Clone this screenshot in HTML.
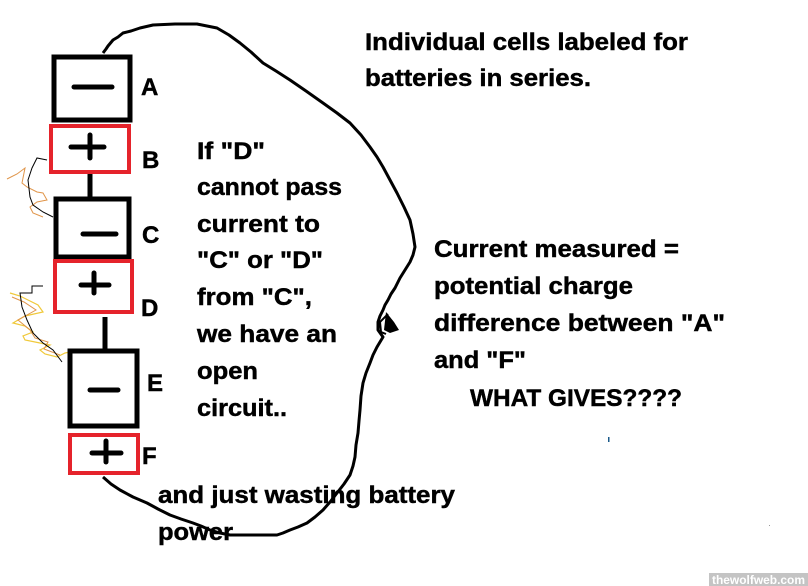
<!DOCTYPE html>
<html><head><meta charset="utf-8"><style>
html,body{margin:0;padding:0;background:#fff;}
svg{display:block;}
text{font-family:"Liberation Sans",Arial,sans-serif;font-weight:bold;fill:#000;stroke:#000;stroke-width:0.45;}
</style></head><body>
<svg width="808" height="586" viewBox="0 0 808 586" xmlns="http://www.w3.org/2000/svg">
<rect width="808" height="586" fill="#fff"/>
<!-- loop wire -->
<path d="M103,53 L106,49 L108,46 L113,40 L118,37 L123,33 L131,31 L140,28 L153,25 L175,24 L197,24 L207,26 L217,28 L229,35 L240,43 L251,52 L263,63 L276,71 L290,80 L306,91 L323,103 L337,113 L350,123 L361,135 L370,147 L377,157 L383,167 L390,180 L397,193 L404,207 L410,220 L413,234 L415,247 L413,255 L410,262 L405,270 L400,278 L397,284 L395,288 L391,294 L388,300 L385,305 L383,310 L380,316 L378,322 L378,330 L383,337 L380,342 L377,347 L373,355 L370,363 L366,373 L363,383 L361,396 L360,410 L359,421 L358,433 L356,445 L355,457 L353,466 L350,475 L344,484 L337,493 L330,502 L323,510 L315,517 L307,523 L298,527 L290,530 L283,533 L277,535 L253,535 L230,535 L220,533 L210,530 L201,526 L193,523 L181,519 L170,515 L158,509 L147,503 L133,497 L120,490 L111,484 L103,477" fill="none" stroke="#000" stroke-width="3" stroke-linejoin="round"/>
<path d="M386,312 L394,322 L399,330 L390,333 L384,330 Z" fill="#000"/>
<path d="M388,314 L380,322 L381,332 L386,334" fill="none" stroke="#000" stroke-width="2"/>
<!-- scribbles -->
<polyline points="7,179 17,174 25,168 22,183 27,187 37,192 43,193 47,200 37,202 30,207 33,213 43,217" fill="none" stroke="#e0954a" stroke-width="1"/>
<polyline points="47,160 37,158 32,168 28,180 30,197 33,205 43,212 53,217" fill="none" stroke="#000" stroke-width="1"/>
<polyline points="10,293 20,296 28,300 38,305 43,312 25,316 13,323 25,326 33,332 23,336 25,340 40,343 50,345 40,350 45,354 57,357 65,353 70,352" fill="none" stroke="#f0c93a" stroke-width="1.2"/>
<polyline points="12,297 24,302 36,310 18,320 30,330 35,338 48,342 44,349 60,355" fill="none" stroke="#e0954a" stroke-width="1"/>
<polyline points="43,286 32,286 32,293 20,293 22,307 27,320 33,333 43,343 53,350 62,362" fill="none" stroke="#000" stroke-width="1"/>
<!-- Box A -->
<rect x="54" y="57" width="76" height="63" fill="none" stroke="#000" stroke-width="5"/>
<line x1="74" y1="87" x2="112" y2="87" stroke="#000" stroke-width="5" stroke-linecap="round"/>
<!-- Box B -->
<rect x="51" y="126" width="78" height="46" fill="none" stroke="#e5232b" stroke-width="4"/>
<line x1="71" y1="147" x2="104" y2="147" stroke="#000" stroke-width="5" stroke-linecap="round"/>
<line x1="90" y1="135" x2="90" y2="158" stroke="#000" stroke-width="5" stroke-linecap="round"/>
<line x1="90" y1="174" x2="90" y2="197" stroke="#000" stroke-width="5"/>
<!-- Box C -->
<rect x="56" y="199" width="73" height="58" fill="none" stroke="#000" stroke-width="5"/>
<line x1="83" y1="234" x2="116" y2="234" stroke="#000" stroke-width="5" stroke-linecap="round"/>
<!-- Box D -->
<rect x="55" y="261" width="77" height="51" fill="none" stroke="#e5232b" stroke-width="4"/>
<line x1="81" y1="285" x2="109" y2="285" stroke="#000" stroke-width="5" stroke-linecap="round"/>
<line x1="94" y1="273" x2="94" y2="293" stroke="#000" stroke-width="5" stroke-linecap="round"/>
<line x1="105" y1="317" x2="105" y2="350" stroke="#000" stroke-width="5"/>
<!-- Box E -->
<rect x="70" y="351" width="67" height="75" fill="none" stroke="#000" stroke-width="5"/>
<line x1="90" y1="390" x2="118" y2="390" stroke="#000" stroke-width="5" stroke-linecap="round"/>
<!-- Box F -->
<rect x="70" y="435" width="68" height="38" fill="none" stroke="#e5232b" stroke-width="4"/>
<line x1="92" y1="453" x2="121" y2="453" stroke="#000" stroke-width="5" stroke-linecap="round"/>
<line x1="106" y1="441" x2="106" y2="462" stroke="#000" stroke-width="5" stroke-linecap="round"/>
<!-- letters -->
<text x="141" y="95" font-size="24">A</text>
<text x="142" y="168" font-size="24">B</text>
<text x="142" y="243" font-size="24">C</text>
<text x="141" y="316" font-size="24">D</text>
<text x="147" y="391" font-size="24">E</text>
<text x="142" y="464" font-size="24">F</text>
<!-- top right -->
<text x="365" y="50" font-size="24" textLength="323" lengthAdjust="spacingAndGlyphs">Individual cells labeled for</text>
<text x="365" y="86" font-size="24" textLength="226" lengthAdjust="spacingAndGlyphs">batteries in series.</text>
<!-- middle -->
<text x="197" y="159" font-size="24" textLength="68" lengthAdjust="spacingAndGlyphs">If "D"</text>
<text x="197" y="195" font-size="24" textLength="145" lengthAdjust="spacingAndGlyphs">cannot pass</text>
<text x="197" y="232" font-size="24" textLength="123" lengthAdjust="spacingAndGlyphs">current to</text>
<text x="197" y="268" font-size="24" textLength="126" lengthAdjust="spacingAndGlyphs">"C" or "D"</text>
<text x="197" y="305" font-size="24" textLength="115" lengthAdjust="spacingAndGlyphs">from "C",</text>
<text x="197" y="342" font-size="24" textLength="140" lengthAdjust="spacingAndGlyphs">we have an</text>
<text x="197" y="379" font-size="24" textLength="61" lengthAdjust="spacingAndGlyphs">open</text>
<text x="197" y="416" font-size="24" textLength="90" lengthAdjust="spacingAndGlyphs">circuit..</text>
<!-- bottom -->
<text x="158" y="503" font-size="24" textLength="297" lengthAdjust="spacingAndGlyphs">and just wasting battery</text>
<text x="158" y="540" font-size="24" textLength="75" lengthAdjust="spacingAndGlyphs">power</text>
<!-- right -->
<text x="434" y="257" font-size="24" textLength="245" lengthAdjust="spacingAndGlyphs">Current measured =</text>
<text x="434" y="294" font-size="24" textLength="199" lengthAdjust="spacingAndGlyphs">potential charge</text>
<text x="434" y="331" font-size="24" textLength="291" lengthAdjust="spacingAndGlyphs">difference between "A"</text>
<text x="434" y="368" font-size="24" textLength="92" lengthAdjust="spacingAndGlyphs">and "F"</text>
<text x="470" y="406" font-size="24" textLength="212" lengthAdjust="spacingAndGlyphs">WHAT GIVES????</text>
<!-- specks -->
<rect x="608" y="437" width="1.5" height="5" fill="#1a5a8a"/>
<rect x="769" y="525" width="1" height="1" fill="#999"/>
<!-- watermark -->
<rect x="709" y="573" width="99" height="13" fill="#c4c4c4"/>
<text x="712" y="584" font-size="12" style="fill:#fff;stroke:none" textLength="93" lengthAdjust="spacingAndGlyphs">thewolfweb.com</text>
</svg>
</body></html>
